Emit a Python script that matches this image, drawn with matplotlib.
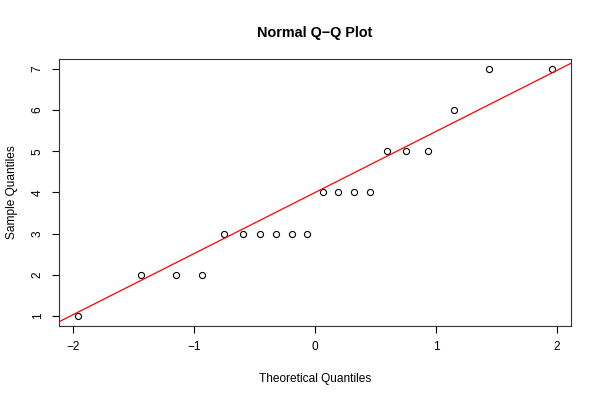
import matplotlib
matplotlib.use("Agg")
import matplotlib.pyplot as plt
import numpy as np

# Sample values (sorted) and their theoretical normal quantiles
sample = [1, 2, 2, 2, 3, 3, 3, 3, 3, 3, 4, 4, 4, 4, 5, 5, 5, 6, 7, 7]
theoretical = [-1.960, -1.440, -1.150, -0.935, -0.755, -0.598, -0.454, -0.319, -0.189, -0.063,
               0.063, 0.189, 0.319, 0.454, 0.598, 0.755, 0.935, 1.150, 1.440, 1.960]
# qqline: through the quartile pairs
line_x = [-0.6745, 0.6745]
line_y = [3.0, 5.0]

xticks = [-2, -1, 0, 1, 2]
yticks = [1, 2, 3, 4, 5, 6, 7]

plt.rcParams['font.family'] = ['Liberation Sans', 'DejaVu Sans']

fig = plt.figure(figsize=(6, 4), dpi=100)
ax = fig.add_axes([0.0983, 0.185, 0.8537, 0.6675])

ax.plot(theoretical, sample, linestyle='none', marker='o', markersize=4.4,
        markerfacecolor='none', markeredgecolor='black', markeredgewidth=0.8)
ax.axline((line_x[0], line_y[0]), (line_x[1], line_y[1]), color='red', linewidth=0.9)

xmin, xmax = min(theoretical), max(theoretical)
dx = (xmax - xmin) * 0.04
ax.set_xlim(xmin - dx, xmax + dx)
ymin, ymax = min(sample), max(sample)
dy = (ymax - ymin) * 0.04
ax.set_ylim(ymin - dy, ymax + dy)

ax.set_xticks(xticks)
ax.set_xticklabels([str(t).replace('-', '\u2212') for t in xticks])
ax.set_yticks(yticks)
ax.set_yticklabels([str(t) for t in yticks], rotation=90, va='center')
ax.tick_params(axis='both', direction='out', length=5, width=0.8, labelsize=8.6,
               color='black', pad=6)

for s in ax.spines.values():
    s.set_linewidth(0.8)
    s.set_color('#333333')

ax.set_title('Normal Q\u2212Q Plot', fontsize=10.4, fontweight='bold', pad=16)
ax.set_xlabel('Theoretical Quantiles', fontsize=8.6, labelpad=14)
ax.set_ylabel('Sample Quantiles', fontsize=8.6, labelpad=10)

fig.savefig('out.png', dpi=100, facecolor='white')
